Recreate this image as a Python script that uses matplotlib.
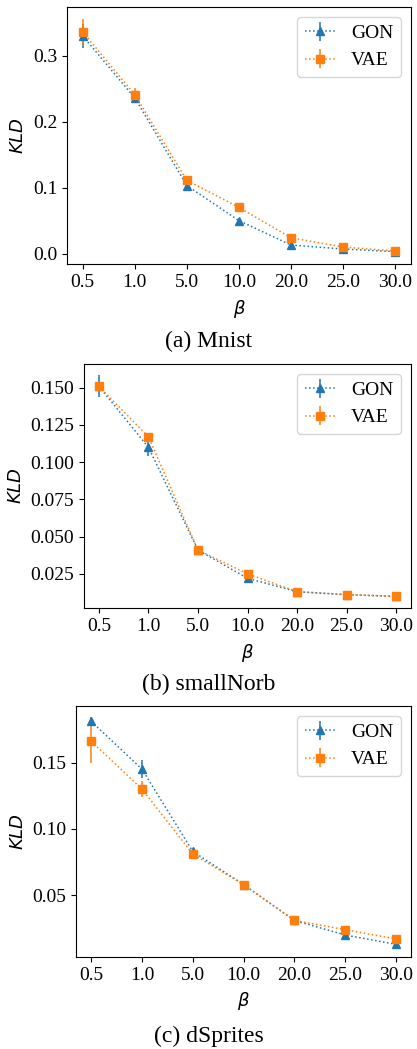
import matplotlib
matplotlib.use("Agg")
import matplotlib.pyplot as plt
from matplotlib.ticker import MultipleLocator, FormatStrFormatter

plt.rcParams['font.family'] = ['Liberation Serif', 'DejaVu Serif']
plt.rcParams['mathtext.fontset'] = 'dejavusans'

betas = ['0.5', '1.0', '5.0', '10.0', '20.0', '25.0', '30.0']

# Mnist
mnist_gon = [0.330, 0.236, 0.103, 0.050, 0.013, 0.007, 0.003]
mnist_gon_err = [0.018, 0.008, 0.003, 0.003, 0.002, 0.001, 0.001]
mnist_vae = [0.336, 0.241, 0.111, 0.070, 0.024, 0.010, 0.004]
mnist_vae_err = [0.020, 0.010, 0.003, 0.003, 0.002, 0.001, 0.001]

# smallNorb
norb_gon = [0.151, 0.110, 0.041, 0.022, 0.013, 0.011, 0.0098]
norb_gon_err = [0.0075, 0.006, 0.001, 0.001, 0.0005, 0.0005, 0.0003]
norb_vae = [0.151, 0.117, 0.041, 0.025, 0.013, 0.011, 0.0100]
norb_vae_err = [0.002, 0.001, 0.001, 0.001, 0.0005, 0.0005, 0.0003]

# dSprites
dspr_gon = [0.181, 0.145, 0.083, 0.058, 0.031, 0.020, 0.013]
dspr_gon_err = [0.003, 0.007, 0.002, 0.001, 0.001, 0.001, 0.001]
dspr_vae = [0.166, 0.130, 0.081, 0.058, 0.031, 0.024, 0.017]
dspr_vae_err = [0.016, 0.006, 0.002, 0.001, 0.001, 0.001, 0.001]

panels = [
    (mnist_gon, mnist_gon_err, mnist_vae, mnist_vae_err, '(a) Mnist', 0.1, '%.1f'),
    (norb_gon, norb_gon_err, norb_vae, norb_vae_err, '(b) smallNorb', 0.025, '%.3f'),
    (dspr_gon, dspr_gon_err, dspr_vae, dspr_vae_err, '(c) dSprites', 0.05, '%.2f'),
]

W, H = 417, 1049
fig = plt.figure(figsize=(W / 100, H / 100), dpi=100)

# axes boxes in pixels: left, top, right, bottom
boxes = [(67, 7, 411, 264), (84, 364, 411, 608), (76, 706, 411, 957)]
captions_y = [341, 684, 1036]
xlabel_y = [298, 642, 990]

x = list(range(len(betas)))
for (gon, gerr, vae, verr, cap, step, fmt), (l, t, r, b), cy, ly in zip(panels, boxes, captions_y, xlabel_y):
    ax = fig.add_axes([l / W, 1 - b / H, (r - l) / W, (b - t) / H])
    ax.errorbar(x, gon, yerr=gerr, linestyle=':', marker='^', color='tab:blue',
                markersize=6, linewidth=1.1, label='GON')
    ax.errorbar(x, vae, yerr=verr, linestyle=':', marker='s', color='tab:orange',
                markersize=6, linewidth=1.1, label='VAE')
    ax.set_xticks(x)
    ax.set_xticklabels(betas)
    ax.yaxis.set_major_locator(MultipleLocator(step))
    ax.yaxis.set_major_formatter(FormatStrFormatter(fmt))
    ax.tick_params(labelsize=14)
    ax.set_ylabel('$KLD$', fontsize=13)
    ax.set_xlabel(r'$\beta$', fontsize=13)
    ax.xaxis.set_label_coords(0.5, 1 - (ly - t) / (b - t), transform=ax.transAxes)
    ax.legend(loc='upper right', fontsize=14, handlelength=1.6)
    fig.text(0.5, 1 - cy / H, cap, ha='center', va='center', fontsize=17)

fig.savefig('out.png', dpi=100)
